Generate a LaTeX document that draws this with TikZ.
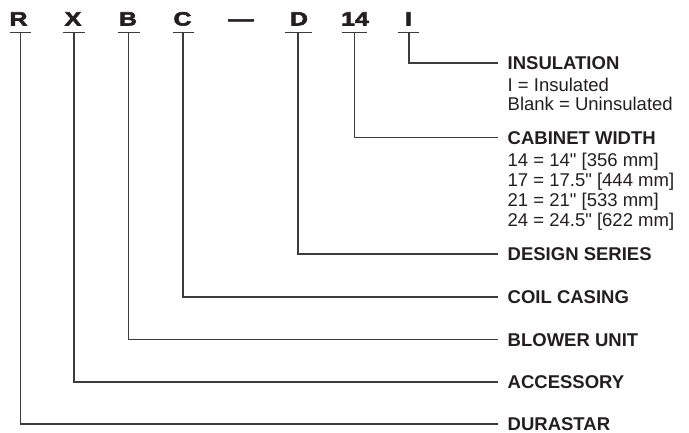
\documentclass[tikz,border=0pt]{standalone}
\usepackage{fontspec}
\setmainfont{Liberation Sans}
\newfontfamily\plainfont{Liberation Sans}
\newfontfamily\titlefont{Liberation Sans Bold}
\newfontfamily\codefont{Liberation Sans Bold}[FakeStretch=1.3,FakeBold=3]
\definecolor{linegray}{HTML}{3C3C3C}
\definecolor{textdark}{HTML}{231F20}
\begin{document}
\begin{tikzpicture}[x=1pt,y=-1pt,
  lead/.style={draw=linegray, line width=1.1pt},
  code/.style={anchor=base, inner sep=0pt, font=\codefont\fontsize{19.2}{20}\selectfont, text=textdark},
  title/.style={anchor=west, inner xsep=10pt, inner ysep=0pt, text height=13.3pt, text depth=0pt, font=\titlefont\fontsize{18.5}{20}\selectfont, text=textdark},
  detail/.style={anchor=base west, inner sep=0pt, font=\plainfont\fontsize{18.5}{20}\selectfont, text=textdark}]
\useasboundingbox (0,0) rectangle (689,433);

% code letters
\node[code] (cR) at (18.5,25.5) {R};
\node[code] (cX) at (73,25.5) {X};
\node[code] (cB) at (128,25.5) {B};
\node[code] (cC) at (182.5,25.5) {C};
\node[code] (cDash) at (241,25.5) {—};
\node[code] (cD) at (299,25.5) {D};
\node[code] (c14) at (355,25.5) {14};
\node[code] (cI) at (408.5,25.5) {I};

% stem tops
\coordinate (sR) at (20.5,32.3);
\coordinate (sX) at (74,32.3);
\coordinate (sB) at (128.5,32.3);
\coordinate (sC) at (183,32.3);
\coordinate (sD) at (298,32.3);
\coordinate (s14) at (354.5,32.3);
\coordinate (sI) at (409,32.3);

% underlines
\draw[lead] ([xshift=-11pt]sR) -- ([xshift=10pt]sR);
\draw[lead] ([xshift=-11pt]sX) -- ([xshift=11pt]sX);
\draw[lead] ([xshift=-10.5pt]sB) -- ([xshift=11.5pt]sB);
\draw[lead] ([xshift=-10pt]sC) -- ([xshift=11pt]sC);
\draw[lead] ([xshift=-13pt]sD) -- ([xshift=14pt]sD);
\draw[lead] ([xshift=-12.5pt]s14) -- ([xshift=12.5pt]s14);
\draw[lead] ([xshift=-11pt]sI) -- ([xshift=10pt]sI);

% labels
\node[title] (tINS) at (497.5,63) {INSULATION};
\node[detail] (dINS1) at (507.5,91.5) {I = Insulated};
\node[detail] (dINS2) at (507.5,110.8) {Blank = Uninsulated};
\node[title] (tCAB) at (497.5,137.5) {CABINET WIDTH};
\node[detail] (dCAB1) at (507.5,166.1) {14 = 14" [356 mm]};
\node[detail] (dCAB2) at (507.5,186.2) {17 = 17.5" [444 mm]};
\node[detail] (dCAB3) at (507.5,206.3) {21 = 21" [533 mm]};
\node[detail] (dCAB4) at (507.5,226.3) {24 = 24.5" [622 mm]};
\node[title] (tDES) at (497.5,254) {DESIGN SERIES};
\node[title] (tCOIL) at (497.5,297) {COIL CASING};
\node[title] (tBLO) at (497.5,339.5) {BLOWER UNIT};
\node[title] (tACC) at (497.5,382) {ACCESSORY};
\node[title] (tDUR) at (497.5,424) {DURASTAR};

% leaders
\draw[lead] (sI) |- (tINS.west);
\draw[lead] (s14) |- (tCAB.west);
\draw[lead] (sD) |- (tDES.west);
\draw[lead] (sC) |- (tCOIL.west);
\draw[lead] (sB) |- (tBLO.west);
\draw[lead] (sX) |- (tACC.west);
\draw[lead] (sR) |- (tDUR.west);
\end{tikzpicture}
\end{document}
